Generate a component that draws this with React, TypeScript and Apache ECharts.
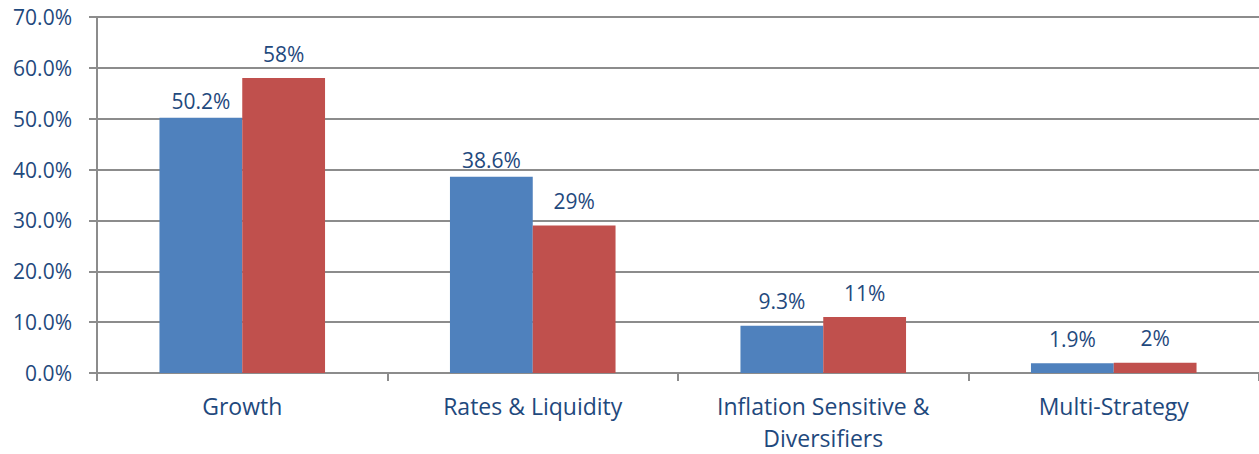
import React, { useEffect, useRef } from "react";
import * as echarts from "echarts";

const categories = ["Growth", "Rates & Liquidity", "Inflation Sensitive &\nDiversifiers", "Multi-Strategy"];
const seriesA = [50.2, 38.6, 9.3, 1.9];
const seriesB = [58, 29, 11, 2];
const yTicks = { min: 0, max: 70, interval: 10 };

const textColor = "#1F497D";
const font = "'Open Sans', 'Noto Sans', sans-serif";

export default function App() {
  const ref = useRef<HTMLDivElement>(null);
  useEffect(() => {
    if (!ref.current) return;
    const chart = echarts.init(ref.current, undefined, { renderer: "svg" });
    const labelStyle = {
      show: true,
      position: "top" as const,
      distance: 14,
      color: textColor,
      fontSize: 21,
      fontFamily: font,
      formatter: (p: any) => p.value + "%",
    };
    // the two tallest blue labels sit closer to their bars in the reference
    const dataA = seriesA.map((v, i) => (i < 2 ? { value: v, label: { distance: 6 } } : v));
    chart.setOption({
      animation: false,
      grid: { left: 97, right: 0, top: 17, bottom: 76, containLabel: false },
      xAxis: {
        type: "category",
        data: categories,
        axisLine: { lineStyle: { color: "#8c8c8c", width: 2 } },
        axisTick: { show: true, length: 8, alignWithLabel: false, lineStyle: { color: "#8c8c8c", width: 2 } },
        axisLabel: {
          color: textColor,
          fontSize: 23,
          fontFamily: font,
          margin: 17,
          lineHeight: 32,
          interval: 0,
        },
      },
      yAxis: {
        type: "value",
        min: yTicks.min,
        max: yTicks.max,
        interval: yTicks.interval,
        axisLine: { show: true, lineStyle: { color: "#8c8c8c", width: 2 } },
        axisTick: { show: true, length: 8, lineStyle: { color: "#8c8c8c", width: 2 } },
        splitLine: { show: true, lineStyle: { color: "#8c8c8c", width: 2 } },
        axisLabel: {
          color: textColor,
          fontSize: 21,
          fontFamily: font,
          margin: 25,
          formatter: (v: number) => v.toFixed(1) + "%",
        },
      },
      series: [
        {
          type: "bar",
          data: dataA,
          itemStyle: { color: "#4F81BD" },
          barGap: "0%",
          barCategoryGap: "43%",
          label: labelStyle,
        },
        {
          type: "bar",
          data: seriesB,
          itemStyle: { color: "#C0504D" },
          barGap: "0%",
          barCategoryGap: "43%",
          label: labelStyle,
        },
      ],
    });
    return () => chart.dispose();
  }, []);
  return (
    <div
      ref={ref}
      style={{ position: "fixed", left: 0, top: 0, width: 1259, height: 454, background: "#fff" }}
    />
  );
}
